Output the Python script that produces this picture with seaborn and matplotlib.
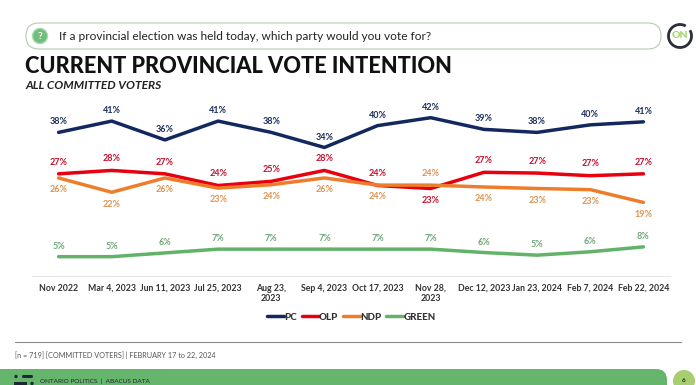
import matplotlib
matplotlib.use("Agg")
import matplotlib.pyplot as plt
from matplotlib.patches import FancyBboxPatch, Circle, Rectangle, Arc
import seaborn as sns
import pandas as pd

dates = ["Nov 2022", "Mar 4, 2023", "Jun 11, 2023", "Jul 25, 2023", "Aug 23,\n2023", "Sep 4, 2023",
         "Oct 17, 2023", "Nov 28,\n2023", "Dec 12, 2023", "Jan 23, 2024", "Feb 7, 2024", "Feb 22, 2024"]
pc = [38, 41, 36, 41, 38, 34, 39.8, 41.9, 38.8, 38, 40, 40.8]
olp = [27, 27.9, 27, 23.9, 25, 27.9, 23.9, 23.1, 27.4, 27.2, 26.5, 27]
ndp = [25.9, 22.1, 25.9, 23.2, 24.1, 25.9, 24, 24, 23.5, 23.1, 22.8, 19.4]
green = [5, 5, 6, 7, 7, 7, 7, 7, 6.1, 5.4, 6.3, 7.6]

pc_labels = [38, 41, 36, 41, 38, 34, 40, 42, 39, 38, 40, 41]
olp_labels = [27, 28, 27, 24, 25, 28, 24, 23, 27, 27, 27, 27]
ndp_labels = [26, 22, 26, 23, 24, 26, 24, 24, 24, 23, 23, 19]
green_labels = [5, 5, 6, 7, 7, 7, 7, 7, 6, 5, 6, 8]

parties = ["PC", "OLP", "NDP", "GREEN"]
colors = {"PC": "#12285f", "OLP": "#e8000f", "NDP": "#ee7d2b", "GREEN": "#62b269"}
label_colors = {"PC": "#1b2f5e", "OLP": "#c8102e", "NDP": "#e0944f", "GREEN": "#6fa878"}

rows = []
for party, vals in zip(parties, [pc, olp, ndp, green]):
    for i, v in enumerate(vals):
        rows.append({"date": i, "party": party, "value": v})
df = pd.DataFrame(rows)

sns.set_theme(style="white")
plt.rcParams["font.family"] = ["Lato", "DejaVu Sans"]

W, H = 696, 385
fig = plt.figure(figsize=(W / 100, H / 100), dpi=100)

# background layer in pixel coords for the slide furniture
bg = fig.add_axes([0, 0, 1, 1])
bg.set_xlim(0, W)
bg.set_ylim(H, 0)
bg.axis("off")

pill = FancyBboxPatch((26, 23), 635, 26, boxstyle="round,pad=0,rounding_size=13",
                      fc="white", ec="#b4cdb0", lw=0.8)
bg.add_patch(pill)
bg.add_patch(Circle((40, 36), 7.5, fc="#6fbf7a", ec="#a9d8ae", lw=1))
bg.text(40, 36.5, "?", color="white", fontsize=7.5, fontweight="bold", ha="center", va="center")
bg.text(59, 36, "If a provincial election was held today, which party would you vote for?",
        fontsize=8.6, color="#222222", va="center")

bg.add_patch(Arc((680, 36), 23, 23, theta1=-30, theta2=300, color="#2b2f38", lw=2))
bg.text(680, 36, "ON", fontsize=7.5, fontweight="black", color="#a6d46b", ha="center", va="center")

bg.text(25, 66.5, "CURRENT PROVINCIAL VOTE INTENTION", fontsize=15.7, fontweight="black",
        color="#111111", va="center")
bg.text(25, 85.5, "ALL COMMITTED VOTERS", fontsize=8.6, fontweight="bold", style="italic",
        color="#222222", va="center")

bg.plot([15, 681], [342, 342], color="#8a8a8a", lw=0.8)
bg.text(15, 355, "[n = 719] [COMMITTED VOTERS] | FEBRUARY 17 to 22, 2024", fontsize=5.2,
        color="#555555", va="center")

bar = FancyBboxPatch((-30, 369), 697, 40, boxstyle="round,pad=0,rounding_size=11",
                     fc="#66b56c", ec="none")
bg.add_patch(bar)
bg.add_patch(Circle((684, 381), 11, fc="#a8cf6f", ec="none"))
bg.text(684, 380, "6", fontsize=4.5, fontweight="bold", color="#222222", ha="center", va="center")
bg.text(40, 381, "ONTARIO POLITICS  |  ABACUS DATA", fontsize=4.6, color="#1d2a33", va="center")
bg.add_patch(Circle((16, 376.5), 1.7, fc="#1d2a33", ec="none"))
bg.add_patch(FancyBboxPatch((22, 375), 11, 3, boxstyle="round,pad=0,rounding_size=1.4", fc="#1d2a33", ec="none"))
bg.add_patch(Rectangle((14, 382), 13, 3, fc="#1d2a33", ec="none"))
bg.add_patch(Circle((32, 383.5), 1.7, fc="#1d2a33", ec="none"))

# chart
ax = fig.add_axes([32 / W, 1 - 275.5 / H, 638 / W, 175.5 / H])
ax.patch.set_alpha(0)
sns.lineplot(data=df, x="date", y="value", hue="party", palette=colors, hue_order=parties,
             lw=2.5, ax=ax, legend=False, sort=False, errorbar=None)
ax.set_xlim(-0.5, 11.5)
ax.set_ylim(0, 46.6)
ax.set_xlabel("")
ax.set_ylabel("")
ax.set_yticks([])
ax.set_xticks(range(len(dates)))
ax.set_xticklabels(dates, fontsize=6.3, fontweight="bold", color="#333333", linespacing=1.15)
ax.tick_params(axis="x", length=0, pad=6)
for s in ["top", "left", "right"]:
    ax.spines[s].set_visible(False)
ax.spines["bottom"].set_color("#e6e6e6")
ax.spines["bottom"].set_linewidth(0.8)

# value labels, offsets in points
ndp_off = [-8.5, -8.5, -8.5, -8.5, -8.5, -8.5, -8.5, 8.5, -8.5, -8.5, -8.5, -8.5]
olp_off = [8.5, 8.5, 8.5, 8.5, 8.5, 8.5, 8.5, -8.5, 8.5, 8.5, 8.5, 8.5]
for i in range(len(dates)):
    ax.annotate(f"{pc_labels[i]}%", (i, pc[i]), xytext=(0, 7.5), textcoords="offset points", ha="center",
                va="center", fontsize=6.5, fontweight="bold", color=label_colors["PC"])
    ax.annotate(f"{olp_labels[i]}%", (i, olp[i]), xytext=(0, olp_off[i]), textcoords="offset points", ha="center",
                va="center", fontsize=6.5, fontweight="bold", color=label_colors["OLP"])
    ax.annotate(f"{ndp_labels[i]}%", (i, ndp[i]), xytext=(0, ndp_off[i]), textcoords="offset points", ha="center",
                va="center", fontsize=6.5, fontweight="bold", color=label_colors["NDP"])
    ax.annotate(f"{green_labels[i]}%", (i, green[i]), xytext=(0, 7.5), textcoords="offset points", ha="center",
                va="center", fontsize=6.5, fontweight="bold", color=label_colors["GREEN"])

handles = [plt.Line2D([], [], color=colors[p], lw=2.5) for p in parties]
leg = ax.legend(handles, parties, ncol=4, frameon=False, loc="center", bbox_to_anchor=(351.5 / W, 1 - 317 / H),
                bbox_transform=fig.transFigure, handlelength=1.75, handletextpad=0, columnspacing=0.5,
                prop={"size": 7, "weight": "black"})
for t in leg.get_texts():
    t.set_color("#333333")

fig.savefig("out.png", dpi=100)
